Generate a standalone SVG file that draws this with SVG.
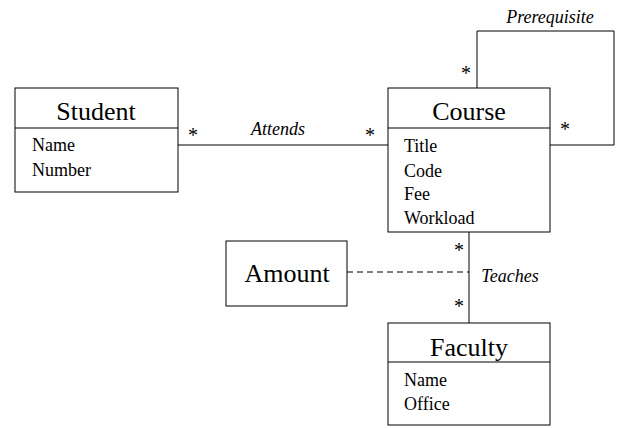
<svg xmlns="http://www.w3.org/2000/svg" width="618" height="428" viewBox="0 0 618 428">
<style>
.box{fill:#fff;stroke:#000;stroke-width:1}
.ln{fill:none;stroke:#000;stroke-width:1}
.dash{fill:none;stroke:#000;stroke-width:1;stroke-dasharray:6,4}
text{font-family:'Liberation Serif','Times New Roman',serif}
.title{font-size:26px;text-anchor:middle}
.attr{font-size:18px}
.lab{font-size:18px;font-style:italic;text-anchor:middle}
.m{font-size:20px;text-anchor:middle}
</style>
<rect width="618" height="428" fill="#fff"/>
<g id="connectors">
<line class="ln" x1="178" y1="145" x2="388" y2="145"/>
<polyline class="ln" points="477,88 477,31 614,31 614,145 550,145"/>
<line class="ln" x1="469" y1="232" x2="469" y2="323"/>
<line class="dash" x1="347" y1="272" x2="469" y2="272"/>
<text class="m" x="193" y="142">*</text>
<text class="m" x="370" y="142">*</text>
<text class="lab" x="278" y="135">Attends</text>
<text class="m" x="466" y="80">*</text>
<text class="m" x="565" y="136">*</text>
<text class="lab" x="550" y="23">Prerequisite</text>
<text class="m" x="459" y="257">*</text>
<text class="m" x="459" y="313">*</text>
<text class="lab" x="510" y="282">Teaches</text>
</g>
<g id="student">
<rect class="box" x="15" y="88" width="163" height="104"/>
<line class="ln" x1="15" y1="128" x2="178" y2="128"/>
<text class="title" x="96" y="120">Student</text>
<text class="attr" x="32" y="151">Name</text>
<text class="attr" x="32" y="176">Number</text>
</g>
<g id="course">
<rect class="box" x="388" y="88" width="162" height="144"/>
<line class="ln" x1="388" y1="128" x2="550" y2="128"/>
<text class="title" x="469" y="120">Course</text>
<text class="attr" x="404" y="152">Title</text>
<text class="attr" x="404" y="177">Code</text>
<text class="attr" x="404" y="200">Fee</text>
<text class="attr" x="404" y="224">Workload</text>
</g>
<g id="amount">
<rect class="box" x="226" y="241" width="121" height="65"/>
<text class="title" x="287" y="282">Amount</text>
</g>
<g id="faculty">
<rect class="box" x="388" y="323" width="162" height="102"/>
<line class="ln" x1="388" y1="362" x2="550" y2="362"/>
<text class="title" x="469" y="356">Faculty</text>
<text class="attr" x="404" y="386">Name</text>
<text class="attr" x="404" y="410">Office</text>
</g>
</svg>
